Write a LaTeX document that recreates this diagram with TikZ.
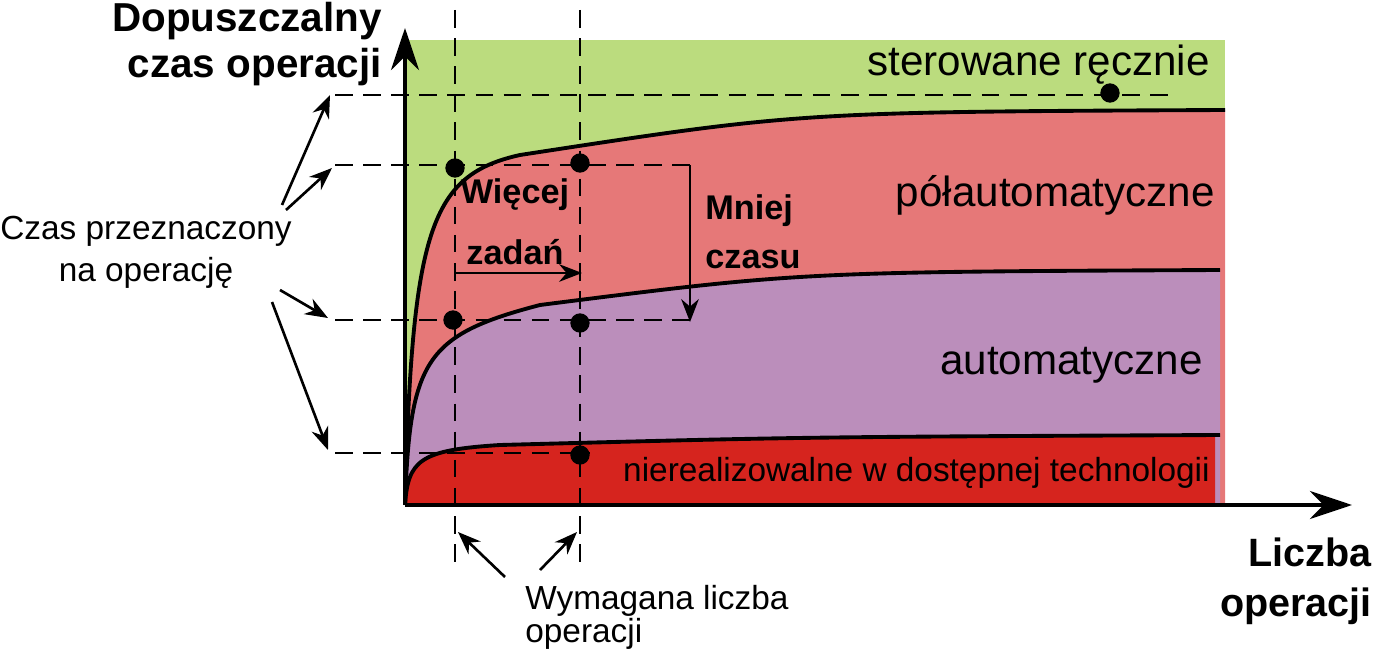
\documentclass[tikz,border=0pt]{standalone}
\usepackage{fontspec}
\setmainfont{Liberation Sans}
\usetikzlibrary{arrows.meta}
\definecolor{zielony}{RGB}{187,220,126}
\definecolor{rozowy}{RGB}{230,120,120}
\definecolor{fiolet}{RGB}{187,142,187}
\definecolor{czerwony}{RGB}{214,36,30}
\tikzset{
  krzywa/.style={line width=2.2pt},
  kreski/.style={line width=1.7pt,dash pattern=on 10pt off 6pt},
  strzalka/.style={line width=1.5pt,-{Stealth[length=13pt,width=10pt]}},
  kropka/.style={circle,fill=black,inner sep=0pt,minimum size=11pt},
  napis/.style={font=\fontsize{24}{26}\selectfont,inner sep=0pt},
  gruby/.style={font=\fontsize{23}{26}\selectfont\bfseries,inner sep=0pt,align=left}
}
\begin{document}
\begin{tikzpicture}[x=0.02cm,y=-0.02cm]
\useasboundingbox (0,0) rectangle (1374,652);
% obszary
\fill[zielony] (405,40) rectangle (1225,505);
\fill[rozowy] (405,505) .. controls (412,230) and (430,175) .. (520,155) .. controls (800,112) .. (1225,110) -- (1225,505) -- cycle;
\fill[fiolet] (405,505) .. controls (410,360) and (425,335) .. (540,305) .. controls (800,272) .. (1220,270) -- (1220,505) -- cycle;
\fill[czerwony] (405,505) .. controls (408,460) and (420,450) .. (500,445) .. controls (800,437) .. (1215,435) -- (1215,505) -- cycle;
\draw[krzywa] (405,505) .. controls (412,230) and (430,175) .. (520,155) .. controls (800,112) .. (1225,110);
\draw[krzywa] (405,505) .. controls (410,360) and (425,335) .. (540,305) .. controls (800,272) .. (1220,270);
\draw[krzywa] (405,505) .. controls (408,460) and (420,450) .. (500,445) .. controls (800,437) .. (1220,435);
% osie
\coordinate (O) at (405,505);
\coordinate (Y) at (405,28);
\coordinate (X) at (1352,505);
\draw[line width=2.2pt,-{Stealth[length=24pt,width=16pt]}] (O) -- (Y);
\draw[line width=2.2pt,-{Stealth[length=24pt,width=16pt]}] (O) -- (X);
% kropki
\node[kropka] (k1) at (1110,93) {};
\node[kropka] (k2) at (455,168) {};
\node[kropka] (k3) at (580,163) {};
\node[kropka] (k4) at (453,320) {};
\node[kropka] (k5) at (580,323) {};
\node[kropka] (k6) at (580,455) {};
% linie pomocnicze
\coordinate (h1) at (335,95);  \coordinate (h1e) at (1170,95);
\coordinate (h2) at (335,165); \coordinate (h2e) at (690,165);
\coordinate (h3) at (335,320); \coordinate (h3e) at (690,320);
\coordinate (h4) at (335,453); \coordinate (h4e) at (590,453);
\coordinate (v1) at (455,10);  \coordinate (v1e) at (455,565);
\coordinate (v2) at (580,10);  \coordinate (v2e) at (580,565);
\draw[kreski] (h1) -- (h1e);
\draw[kreski] (h2) -- (h2e);
\draw[kreski] (h3) -- (h3e);
\draw[kreski] (h4) -- (h4e);
\draw[kreski] (v1) -- (v1e);
\draw[kreski] (v2) -- (v2e);
\draw[strzalka] (h2e) -- (690,322);
\draw[strzalka] (455,273) -- (582,273);
% napisy
\node[napis,anchor=east] (ster) at (1210,65) {sterowane ręcznie};
\node[napis,anchor=east] (polaut) at (1215,195) {półautomatyczne};
\node[napis,anchor=east] (aut) at (1203,365) {automatyczne};
\node[napis,anchor=east,font=\fontsize{19}{20}\selectfont] (nierel) at (1210,473) {nierealizowalne w dostępnej technologii};
\node[gruby,font=\fontsize{19.5}{35}\selectfont\bfseries,align=center] (wiecej) at (515,222) {Więcej\\zadań};
\node[gruby,font=\fontsize{19.5}{28}\selectfont\bfseries,anchor=west] (mniej) at (705,232) {Mniej\\czasu};
\node[gruby,anchor=north east,align=right] (oy) at (382,2) {Dopuszczalny\\czas operacji};
\node[gruby,anchor=north east,align=right,font=\fontsize{22.5}{28}\selectfont\bfseries] (ox) at (1372,538) {Liczba\\operacji};
\node[napis,align=center,font=\fontsize{19}{24}\selectfont] (czas) at (146,252) {Czas przeznaczony\\na operację};
\node[napis,align=left,anchor=north west,font=\fontsize{19}{19}\selectfont] (wym) at (525,585) {Wymagana liczba\\operacji};
% strzalki od opisow
\draw[strzalka] (282,205) -- (330,95);
\draw[strzalka] (286,210) -- (332,168);
\draw[strzalka] (280,290) -- (328,318);
\draw[strzalka] (272,302) -- (328,450);
\draw[strzalka] (505,577) -- (458,532);
\draw[strzalka] (540,570) -- (577,532);
\end{tikzpicture}
\end{document}
